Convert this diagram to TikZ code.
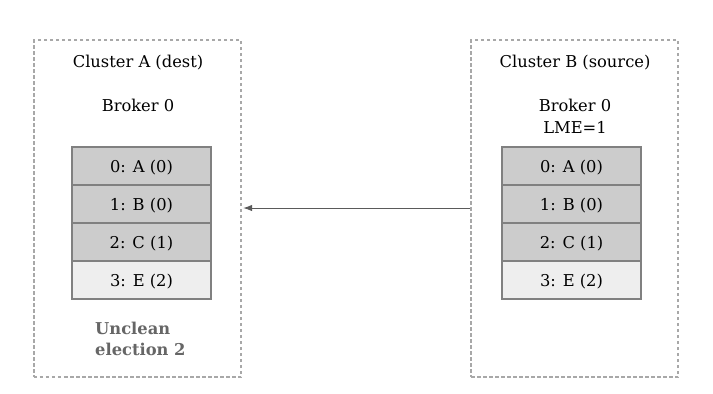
\documentclass[tikz,border=0pt]{standalone}
\usepackage{fontspec}
\setmainfont{DejaVu Serif}
\usetikzlibrary{arrows.meta}
\definecolor{cellDark}{HTML}{CCCCCC}
\definecolor{cellLight}{HTML}{EEEEEE}
\definecolor{cellLine}{HTML}{808080}
\definecolor{boxLine}{HTML}{A8A8A8}
\definecolor{noteText}{HTML}{666666}
\definecolor{arrowLine}{HTML}{5A5A5A}
\tikzset{
  cluster/.style={draw=boxLine, line width=1.4bp, dash pattern=on 3.5bp off 2.5bp, minimum width=207bp, minimum height=337bp, inner sep=0pt},
  lbl/.style={font=\fontsize{16.3bp}{20bp}\selectfont, text=black, inner sep=0pt, anchor=base},
  cell/.style={draw=cellLine, line width=1.1bp, fill=cellDark, minimum width=139bp, minimum height=38bp, inner sep=0pt, text height=12bp, text depth=0bp, font=\fontsize{16.3bp}{20bp}\selectfont},
  cellnew/.style={cell, fill=cellLight},
  note/.style={font=\bfseries\fontsize{16.3bp}{20bp}\selectfont, text=noteText, inner sep=0pt, anchor=base west},
  conn/.style={draw=arrowLine, line width=0.9bp, -{Latex[length=9bp,width=6.5bp]}}
}
\begin{document}
\begin{tikzpicture}[x=1bp,y=-1bp]
\useasboundingbox (0,0) rectangle (713,393);
\fill[white] (0,0) rectangle (713,393);
% clusters
\node[cluster] (ca) at (137.5,208.5) {};
\node[cluster] (cb) at (574.5,208.5) {};
% titles
\node[lbl] (ta) at (138,67) {Cluster A (dest)};
\node[lbl] (ba) at (138,111) {Broker 0};
\node[lbl] (tb) at (575,67) {Cluster B (source)};
\node[lbl] (bb) at (575,111) {Broker 0};
\node[lbl] (lb) at (575,133) {LME=1};
% cells A
\node[cell] (a0) at (141.5,166) {0: A (0)};
\node[cell] (a1) at (141.5,204) {1: B (0)};
\node[cell] (a2) at (141.5,242) {2: C (1)};
\node[cellnew] (a3) at (141.5,280) {3: E (2)};
% cells B
\node[cell] (b0) at (571.5,166) {0: A (0)};
\node[cell] (b1) at (571.5,204) {1: B (0)};
\node[cell] (b2) at (571.5,242) {2: C (1)};
\node[cellnew] (b3) at (571.5,280) {3: E (2)};
% note
\node[note] (na1) at (95,334) {Unclean};
\node[note] (na2) at (95,355) {election 2};
% connector
\coordinate (cbl) at (cb.west |- 0,208);
\coordinate (car) at ([xshift=1.5bp]ca.east |- 0,208);
\draw[conn] (cbl) -- (car);
\end{tikzpicture}
\end{document}
